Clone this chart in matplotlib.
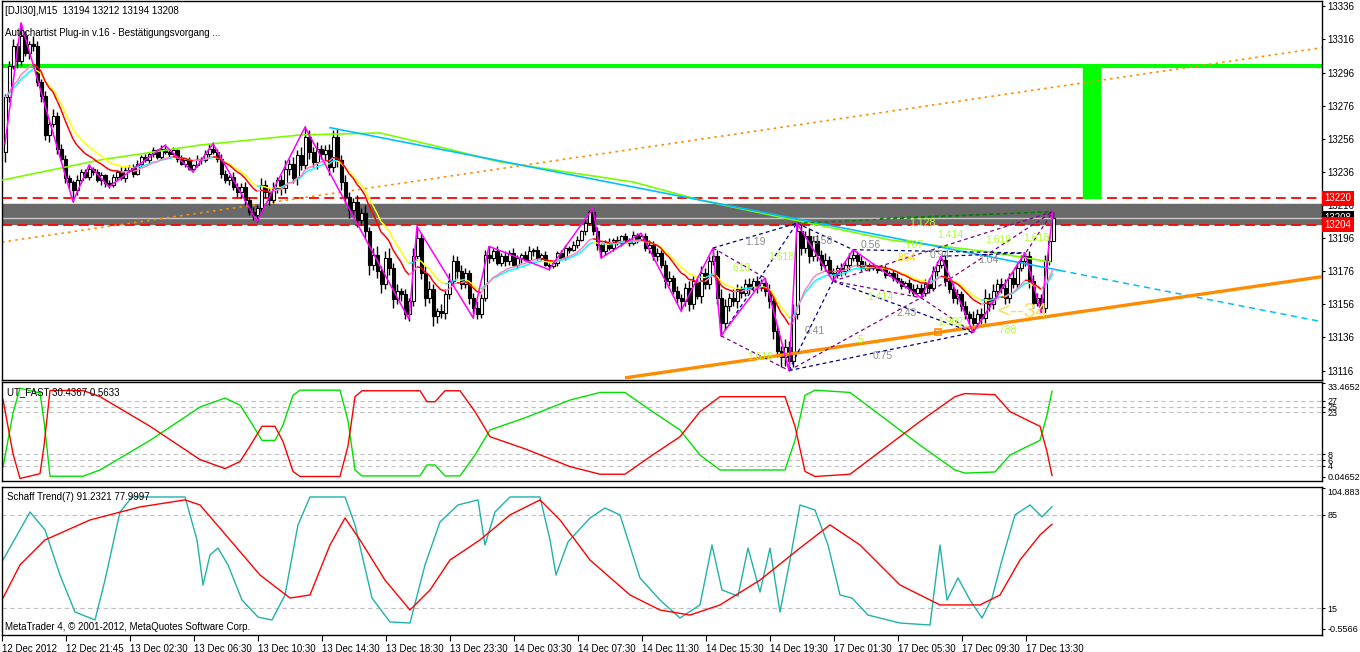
import numpy as np
import matplotlib.pyplot as plt
import matplotlib.transforms as mtransforms
from matplotlib.collections import LineCollection
from matplotlib.patches import Rectangle

plt.rcParams['font.family'] = ['Liberation Sans', 'DejaVu Sans']
plt.rcParams['font.size'] = 7

# ---- price data (M15 bars, index 0 = 12 Dec 2012) ----
first_open = 13248
closes = [
    13281, 13300, 13312, 13303, 13318, 13308, 13313, 13312, 13290, 13282,
    13258, 13265, 13270, 13250, 13244, 13232, 13230, 13225, 13231, 13236,
    13233, 13238, 13236, 13231, 13234, 13229, 13228, 13233, 13236, 13232,
    13237, 13239, 13235, 13241, 13245, 13243, 13247, 13249, 13245, 13250,
    13248, 13247, 13249, 13244, 13241, 13243, 13238, 13240, 13244, 13243,
    13247, 13250, 13248, 13244, 13235, 13231, 13233, 13227, 13224, 13227,
    13219, 13212, 13210, 13214, 13228, 13224, 13219, 13226, 13231, 13226,
    13238, 13241, 13232, 13246, 13240, 13257, 13248, 13242, 13250, 13247,
    13249, 13239, 13257, 13243, 13230, 13221, 13213, 13218, 13207, 13211,
    13200, 13180, 13186, 13176, 13168, 13184, 13178, 13159, 13164, 13162,
    13150, 13158, 13185, 13196, 13175, 13160, 13165, 13149, 13152, 13151,
    13162, 13170, 13182, 13176, 13168, 13175, 13160, 13154, 13150, 13160,
    13186, 13184, 13188, 13181, 13185, 13182, 13187, 13180, 13184, 13186,
    13183, 13188, 13189, 13184, 13186, 13180, 13179, 13181, 13187, 13184,
    13190, 13189, 13192, 13195, 13200, 13205, 13212, 13200, 13192, 13188,
    13193, 13190, 13195, 13193, 13197, 13195, 13193, 13198, 13195, 13197,
    13190, 13192, 13185, 13187, 13180, 13170, 13172, 13164, 13160, 13158,
    13166, 13156, 13170, 13161, 13175, 13168, 13182, 13185, 13160, 13145,
    13155, 13160, 13158, 13165, 13163, 13168, 13166, 13170, 13166, 13169,
    13164, 13158, 13140, 13128, 13124, 13130, 13122, 13150, 13200, 13190,
    13197, 13185, 13194, 13186, 13180, 13183, 13175, 13174, 13178, 13176,
    13180, 13184, 13186, 13182, 13178, 13180, 13178, 13179, 13177, 13178,
    13174, 13175, 13172, 13170, 13167, 13169, 13165, 13163, 13166, 13163,
    13168, 13166, 13176, 13180, 13183, 13170, 13165, 13160, 13162, 13155,
    13150, 13148, 13145, 13150, 13148, 13160, 13156, 13164, 13168, 13166,
    13160, 13172, 13168, 13178, 13182, 13185, 13170, 13157, 13160, 13154,
    13182, 13194, 13208]
upper_wick = [
    2, 3, 4, 2, 8, 3, 2, 5, 3, 2,
    3, 2, 4, 2, 3, 2, 2, 1, 3, 2,
    2, 3, 1, 2, 2, 1, 2, 2, 1, 3,
    2, 1, 2, 2, 1, 2, 1, 2, 1, 2,
    3, 1, 2, 1, 2, 1, 2, 1, 2, 1,
    2, 3, 4, 2, 3, 2, 1, 3, 2, 2,
    3, 2, 3, 2, 4, 3, 2, 4, 2, 3,
    5, 3, 4, 3, 5, 7, 4, 3, 4, 2,
    3, 4, 4, 5, 3, 4, 3, 2, 4, 3,
    5, 3, 4, 5, 3, 4, 6, 3, 4, 2,
    3, 2, 5, 7, 3, 4, 5, 3, 2, 4,
    3, 5, 4, 3, 4, 3, 2, 3, 4, 2,
    3, 5, 2, 3, 2, 3, 2, 3, 2, 1,
    2, 3, 1, 2, 1, 2, 1, 2, 1, 2,
    2, 1, 2, 2, 1, 2, 1, 2, 3, 1,
    2, 3, 1, 2, 1, 2, 1, 2, 1, 2,
    2, 3, 2, 3, 2, 3, 4, 2, 3, 2,
    3, 4, 3, 2, 4, 3, 3, 5, 4, 5,
    4, 3, 5, 3, 2, 3, 4, 2, 3, 2,
    3, 4, 3, 4, 3, 5, 4, 6, 5, 4,
    3, 5, 3, 4, 3, 4, 2, 3, 2, 3,
    2, 3, 3, 2, 3, 2, 1, 2, 1, 2,
    2, 1, 2, 3, 2, 1, 2, 3, 2, 2,
    3, 4, 3, 2, 2, 3, 2, 4, 3, 2,
    3, 2, 4, 3, 4, 5, 3, 4, 3, 4,
    5, 3, 4, 3, 4, 2, 3, 4, 3, 2,
    4, 3, 4]
lower_wick = [
    6, 3, 2, 4, 3, 2, 4, 3, 2, 4,
    3, 4, 2, 3, 2, 3, 4, 7, 3, 2,
    1, 2, 2, 1, 3, 2, 2, 1, 2, 1,
    2, 1, 2, 1, 2, 1, 2, 2, 1, 2,
    1, 2, 1, 2, 1, 2, 1, 2, 1, 2,
    1, 2, 1, 2, 3, 2, 3, 2, 3, 4,
    3, 2, 3, 4, 3, 4, 3, 2, 3, 4,
    3, 4, 3, 4, 3, 2, 4, 3, 4, 3,
    4, 5, 3, 4, 5, 4, 5, 3, 4, 3,
    4, 6, 3, 4, 5, 3, 4, 5, 3, 4,
    3, 4, 3, 2, 4, 5, 3, 6, 4, 3,
    4, 3, 3, 4, 3, 2, 4, 6, 3, 2,
    2, 3, 2, 1, 2, 3, 2, 1, 2, 3,
    1, 2, 3, 1, 2, 1, 2, 1, 2, 1,
    1, 2, 1, 2, 1, 2, 1, 2, 3, 4,
    2, 1, 2, 1, 2, 1, 2, 1, 2, 1,
    2, 3, 2, 3, 2, 4, 3, 2, 3, 6,
    3, 4, 3, 2, 4, 3, 3, 2, 4, 8,
    4, 3, 3, 4, 3, 2, 3, 2, 3, 2,
    3, 4, 5, 4, 6, 5, 6, 4, 3, 4,
    3, 4, 3, 4, 3, 4, 2, 4, 2, 3,
    2, 3, 2, 3, 2, 1, 2, 1, 2, 1,
    2, 1, 2, 1, 2, 1, 2, 2, 1, 3,
    2, 3, 2, 3, 2, 3, 2, 3, 4, 3,
    3, 4, 6, 3, 4, 3, 4, 3, 4, 3,
    4, 3, 2, 3, 2, 3, 4, 3, 2, 3,
    3, 2, 0]

# zigzag pivots (bar, price)
zz_bars = [0, 4, 17, 21, 26, 40, 47, 52, 63, 75, 101, 103, 117, 121, 136, 147,
           149, 159, 169, 177, 179, 190, 196, 198, 207, 212, 229, 234, 242, 255, 259, 262]
zz_prices = [13253, 13326, 13218, 13240, 13227, 13252, 13236, 13253, 13206, 13263,
             13147, 13203, 13148, 13191, 13177, 13214, 13184, 13199, 13152, 13190,
             13137, 13172, 13116, 13205, 13170, 13189, 13160, 13185, 13139, 13187,
             13151, 13212]

# long moving average (light green)
lma_bars = [-0.5, 23.75, 48.75, 73.75, 93.75, 108.75, 123.75, 140.5, 157, 173.75,
            191.25, 221.25, 246.25, 261.25]
lma_prices = [13231.1, 13243.2, 13252.2, 13258.3, 13259.5, 13251.0, 13242.0, 13235.9,
              13229.9, 13219.0, 13210.0, 13194.9, 13187.6, 13181.6]

# levels and drawing objects
green_level = 13300
red_levels = [13220, 13204]
zone = (13204.6, 13216.8)
bid = 13208
target_box = (269.5, 273.75, 13220, 13300)
orange_trend = [(155.0, 13111.6), (329.25, 13172.7)]
orange_mark = (233.25, 13139.0)
orange_dotted = [(-0.75, 13193.6), (329.25, 13311.0)]
cyan_trend = [(81.25, 13262.7), (329.25, 13145.5)]
cyan_solid_end = 263.75

# harmonic pattern points
P = {'A': (177, 13190), 'B': (179, 13137), 'C': (190, 13172), 'D': (196, 13116),
     'E': (198, 13205), 'F': (207, 13170), 'G': (212, 13189), 'H': (229, 13160),
     'I': (234, 13185), 'J': (242, 13139), 'K': (255, 13187), 'M': (262, 13212),
     'N': (218.75, 13208)}
navy_legs = [('A', 'E'), ('D', 'F'), ('D', 'J'), ('F', 'J'), ('E', 'G'), ('I', 'K'),
             ('G', 'K'), ('B', 'E')]
purple_legs = [('A', 'C'), ('B', 'D'), ('D', 'H'), ('F', 'H'), ('H', 'J'), ('F', 'M'),
               ('H', 'M'), ('J', 'M')]
green_legs = [('E', 'M'), ('N', 'M')]
ratio_labels = [('1.19', 187.5, 13193.8, 'grey'), ('.618', 183.75, 13177.8, 'fib'),
                ('1.618', 194.2, 13184.8, 'fib'), ('1.618', 188.75, 13124.4, 'fib'),
                ('0.41', 202.5, 13140.0, 'grey'), ('.5', 213.6, 13134.5, 'fib'),
                ('0.75', 219.4, 13124.8, 'grey'), ('2.43', 225.4, 13150.6, 'grey'),
                ('1.414', 218.75, 13160.6, 'fib'), ('0.58', 204.4, 13194.3, 'grey'),
                ('0.56', 216.4, 13191.9, 'grey'), ('.707', 227.1, 13191.9, 'fib'),
                ('0.94', 233.6, 13185.8, 'grey'), ('1.04', 245.8, 13182.8, 'grey'),
                ('1.414', 236.25, 13197.9, 'fib'), ('1.618', 248.3, 13194.9, 'fib'),
                ('1.618', 257.9, 13195.9, 'fib'), ('1.128', 229.4, 13205.3, 'fib'),
                ('.854', 225.0, 13183.8, 'yel'), ('1.902', 236.25, 13145.5, 'fib'),
                ('.788', 250.25, 13140.5, 'fib')]

# UT_FAST (green line; red = 31 - green)
ut_bars = [-0.5, 2, 3.75, 8.75, 9.75, 11.25, 19.5, 23.75, 36.25, 48.75, 55, 58.75,
           61.25, 64.25, 67.5, 69.5, 72, 73.75, 83.75, 85.75, 87.5, 89.25, 103.75,
           105.5, 107.5, 110, 113.75, 117.5, 121.25, 130, 141.25, 148.75, 155, 161.25,
           168.75, 173.75, 178.75, 195, 197.5, 200, 202.5, 211.25, 218.75, 228.75,
           237.5, 240, 247.5, 251.25, 256.25, 258.75, 260.5, 261.75]
ut_green = [3.5, 22.7, 31.5, 29.8, 20, 0.3, 0.3, 2.5, 13, 24.8, 28, 25.5, 20, 13, 13,
            18.4, 29, 30.8, 30.8, 20, 2.5, 0.4, 0.4, 4.3, 4.3, 0.4, 0.4, 7.8, 16.7, 21,
            27.3, 30, 30, 23.8, 16.7, 7.8, 2.5, 2.5, 13, 29, 30.8, 30, 22, 11.3, 2.5,
            1.4, 1.8, 7.8, 11.3, 13, 22, 30.44]
ut_total = 31.0
ut_levels = [27, 25, 23, 8, 6, 4]

# Schaff Trend(7)
stc_bars = [-0.5, 6.25, 10, 13.75, 17.5, 22.5, 25, 28.75, 31.75, 45, 48, 49.5, 51.25,
            53.25, 55.75, 59.25, 63.25, 66.75, 70, 73.25, 76.25, 85, 87.5, 91.75, 96.25,
            101.25, 105, 108.75, 113.25, 118.25, 120, 122.5, 126.25, 133.75, 136.25,
            137.75, 140.75, 146.25, 150, 153.75, 158.75, 163.75, 168.75, 173.75, 176.75,
            179.25, 183.25, 185.75, 188.75, 191.25, 193.75, 196.25, 198.75, 202.5,
            205.75, 208.75, 211.75, 215.75, 223.75, 231.25, 233.75, 235.5, 238.25,
            241.25, 244.25, 246.75, 249.25, 252.5, 256.25, 259.25, 261.75]
stc_fast = [51.1, 87.2, 73.7, 39.8, 12, 6, 36, 87.2, 98.5, 98.5, 66.2, 32.3, 54.9, 60.1,
            47.4, 21, 8.2, 6, 24.8, 77.5, 98.5, 98.5, 77.5, 22.5, 4.5, 3.7, 47.4, 79.7,
            92.5, 96.3, 62.4, 87.2, 98.5, 98.5, 66.2, 39.8, 64.7, 82.7, 90.2, 85, 37.6,
            21, 7.5, 17.3, 62.4, 28.5, 24, 60.1, 27, 60.1, 12, 51.1, 92.5, 88.7, 62.4,
            24.8, 22.5, 9.7, 3.7, 2.2, 62.4, 21, 37.6, 21, 7.5, 22.5, 51.1, 85, 92.5,
            83.5, 91.2]
sig_bars = [-0.5, 3.75, 10, 21.25, 33.75, 45, 48.75, 56.25, 63.75, 71.25, 76.25, 81.25,
            85, 88.75, 95, 101.25, 106.25, 111.25, 118.75, 126.25, 133.75, 138.75,
            146.25, 156.25, 163.75, 171.25, 178.75, 188.75, 198.75, 206.25, 213.75,
            223.75, 233.75, 243.75, 248.75, 253.75, 258.75, 261.75]
stc_signal = [22.5, 47.4, 66.2, 81.2, 91, 96.3, 92.5, 66.2, 39.8, 22.5, 24.8, 62.4, 82.7,
              66.2, 36, 13.5, 28.5, 51.1, 66.2, 85, 96.3, 81.2, 51.1, 24.8, 13.5, 9.7,
              17.3, 36, 60.1, 77.5, 62.4, 32.3, 17.3, 17.3, 24.8, 51.1, 69.9, 78]
stc_levels = [85, 15]

time_labels = ['12 Dec 2012', '12 Dec 21:45', '13 Dec 02:30', '13 Dec 06:30',
               '13 Dec 10:30', '13 Dec 14:30', '13 Dec 18:30', '13 Dec 23:30',
               '14 Dec 03:30', '14 Dec 07:30', '14 Dec 11:30', '14 Dec 15:30',
               '14 Dec 19:30', '17 Dec 01:30', '17 Dec 05:30', '17 Dec 09:30',
               '17 Dec 13:30']

# ---- figure ----
W, H = 1360, 652
fig = plt.figure(figsize=(W / 100, H / 100), dpi=100)


def px_axes(x0, y0, x1, y1):
    return fig.add_axes([x0 / W, 1 - y1 / H, (x1 - x0) / W, (y1 - y0) / H])


ax = px_axes(2, 1, 1322, 380)
ax2 = px_axes(2, 382, 1322, 481)
ax3 = px_axes(2, 487, 1322, 635)
XL = (-0.75, 329.25)
for a in (ax, ax2, ax3):
    a.set_xlim(*XL)
    a.yaxis.tick_right()
    a.tick_params(axis='y', direction='out', length=2.5, width=0.8, pad=1.5, labelsize=7)
    for s in a.spines.values():
        s.set_color('black')
        s.set_linewidth(1)
ax.set_xticks([])
ax2.set_xticks([])


def ema(v, n):
    out = np.empty(len(v))
    k = 2.0 / (n + 1)
    out[0] = v[0]
    for i in range(1, len(v)):
        out[i] = out[i - 1] + k * (v[i] - out[i - 1])
    return out


def trend_line(axis, y, up_col, dn_col, lw=1.1, z=5):
    xs = np.arange(len(y))
    segs = [[(xs[i], y[i]), (xs[i + 1], y[i + 1])] for i in range(len(y) - 1)]
    cols = [up_col if y[i + 1] >= y[i] else dn_col for i in range(len(y) - 1)]
    axis.add_collection(LineCollection(segs, colors=cols, linewidths=lw, zorder=z))


# ---- main price panel ----
ax.set_ylim(13110.3, 13339.2)
ax.set_yticks(np.arange(13116, 13337, 20))

ax.axhspan(zone[0], zone[1], color='#696969', zorder=1)
ax.axhline(bid, color='#C8C8C8', lw=1, zorder=1.5)
for lv in red_levels:
    ax.axhline(lv, color='red', lw=1.3, dashes=(5.5, 3), zorder=2)
ax.axhline(green_level, color='#00FF00', lw=2.9, zorder=2)
ax.add_patch(Rectangle((target_box[0], target_box[2]), target_box[1] - target_box[0],
                       target_box[3] - target_box[2], color='#00FF00', zorder=2))

(x0, y0), (x1, y1) = orange_dotted
ax.plot([x0, x1], [y0, y1], color='#FF8C00', lw=1.2, dashes=(1.5, 2.5), zorder=2)

c = np.array(closes, dtype=float)
o = np.r_[first_open, c[:-1]]
hi = np.maximum(o, c) + np.array(upper_wick)
lo = np.minimum(o, c) - np.array(lower_wick)
idx = np.arange(len(c))
bull = c >= o
ax.vlines(idx, lo, hi, color='black', lw=1, zorder=3)
ax.bar(idx[bull], (c - o)[bull], bottom=o[bull], width=0.75, color='white',
       edgecolor='black', linewidth=0.8, zorder=4)
ax.bar(idx[~bull], (o - c)[~bull], bottom=c[~bull], width=0.75, color='black',
       edgecolor='black', linewidth=0.8, zorder=4)

ax.plot(lma_bars, lma_prices, color='#7CFC00', lw=1.2, zorder=5)
(cx0, cy0), (cx1, cy1) = cyan_trend
cy_mid = np.interp(cyan_solid_end, [cx0, cx1], [cy0, cy1])
ax.plot([cx0, cyan_solid_end], [cy0, cy_mid], color='#00BFFF', lw=1.2, zorder=5)
ax.plot([cyan_solid_end, cx1], [cy_mid, cy1], color='#00BFFF', lw=1.1,
        dashes=(4, 3), zorder=5)

trend_line(ax, ema(c, 16), '#00FFFF', '#FFFF00')
trend_line(ax, ema(c, 12), '#FF80C0', '#FF0000')

(ox0, oy0), (ox1, oy1) = orange_trend
ax.plot([ox0, ox1], [oy0, oy1], color='#FF8C00', lw=2.4, zorder=6, solid_capstyle='butt')
ax.plot(*orange_mark, marker='s', ms=4.5, mfc='none', mec='#FF8C00', mew=1.2, zorder=6)

for a_, b_ in navy_legs:
    ax.plot([P[a_][0], P[b_][0]], [P[a_][1], P[b_][1]], color='#000080', lw=0.9,
            dashes=(3, 2.5), zorder=6)
for a_, b_ in purple_legs:
    ax.plot([P[a_][0], P[b_][0]], [P[a_][1], P[b_][1]], color='#800080', lw=0.9,
            dashes=(3, 2.5), zorder=6)
for a_, b_ in green_legs:
    ax.plot([P[a_][0], P[b_][0]], [P[a_][1], P[b_][1]], color='#008000', lw=0.9,
            dashes=(3, 2.5), zorder=6)

ax.plot(zz_bars, zz_prices, color='#FF00FF', lw=1.1, zorder=7)

lab_col = {'grey': '#8C8C8C', 'fib': '#ADFF2F', 'yel': '#FFD700'}
for t, bx, py, kind in ratio_labels:
    ax.text(bx, py, t, color=lab_col[kind], fontsize=7.5, ha='center', va='center',
            zorder=8)
ax.text(248.25, 13151.4, '<--34', color='#F5E050', fontsize=15, ha='left',
        va='center', zorder=8)

tr = mtransforms.blended_transform_factory(ax.transAxes, ax.transData)
ax.text(1.002, bid, str(bid), transform=tr, color='white', fontsize=7, ha='left',
        va='center', zorder=9, clip_on=False,
        bbox=dict(boxstyle='square,pad=0.25', fc='black', ec='none'))
for lv in red_levels:
    ax.text(1.002, lv, str(lv), transform=tr, color='white', fontsize=7, ha='left',
            va='center', zorder=10, clip_on=False,
            bbox=dict(boxstyle='square,pad=0.25', fc='red', ec='none'))

# ---- UT_FAST panel ----
ax2.set_ylim(-1.4, 33.7)
for lv in ut_levels:
    ax2.axhline(lv, color='#C0C0C0', lw=0.8, dashes=(4, 3))
ax2.plot(ut_bars, ut_green, color='#00E000', lw=1)
ax2.plot(ut_bars, ut_total - np.array(ut_green), color='red', lw=1)
ax2.set_yticks([33.4652] + ut_levels + [0.04652])
ax2.set_yticklabels(['33.4652'] + [str(v) for v in ut_levels] + ['0.04652'])
for lab in ax2.get_yticklabels():
    lab.set_fontsize(6.5)
ax2.get_yticklabels()[0].set_va('top')

# ---- Schaff panel ----
ax3.set_ylim(-5.3, 106)
for lv in stc_levels:
    ax3.axhline(lv, color='#C0C0C0', lw=0.8, dashes=(4, 3))
ax3.plot(stc_bars, stc_fast, color='#20B2AA', lw=1)
ax3.plot(sig_bars, stc_signal, color='red', lw=1)
ax3.set_yticks([104.883, 85, 15, -0.5566])
ax3.set_yticklabels(['104.883', '85', '15', '-0.5566'])
for lab in ax3.get_yticklabels():
    lab.set_fontsize(6.5)
ax3.get_yticklabels()[0].set_va('top')
ax3.set_xticks([16 * k - 0.75 for k in range(len(time_labels))])
ax3.set_xticklabels(time_labels, ha='left', fontsize=7)
ax3.tick_params(axis='x', direction='out', length=4, width=0.8, pad=2.5)

# ---- captions ----
fig.text(5 / W, 1 - 11 / H, '[DJI30],M15  13194 13212 13194 13208', va='center')
fig.text(5 / W, 1 - 33 / H, 'Autochartist Plug-in v.16 - Bestätigungsvorgang ...',
         va='center')
fig.text(7 / W, 1 - 392 / H, 'UT_FAST 30.4367 0.5633', va='center')
fig.text(7 / W, 1 - 497 / H, 'Schaff Trend(7) 91.2321 77.9997', va='center')
fig.text(5 / W, 1 - 627 / H, 'MetaTrader 4, © 2001-2012, MetaQuotes Software Corp.',
         va='center')

fig.savefig('out.png', dpi=100, facecolor='white')
